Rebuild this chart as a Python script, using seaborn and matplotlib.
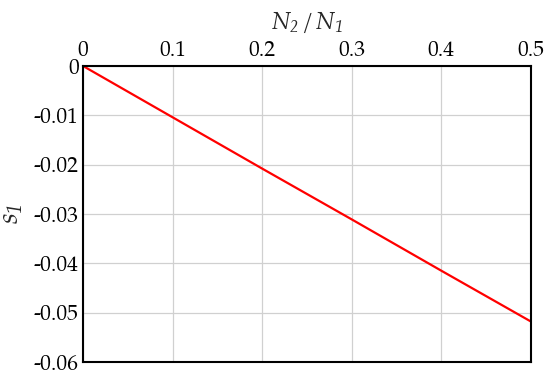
import matplotlib
matplotlib.use("Agg")
import matplotlib.pyplot as plt
import seaborn as sns
import pandas as pd

# ratio N2/N1 and the resulting s1
ratio = [0.0, 0.1, 0.2, 0.3, 0.4, 0.5]
s1 = [0.0, -0.0104, -0.0208, -0.0311, -0.0415, -0.0518]
xticks = [0, 0.1, 0.2, 0.3, 0.4, 0.5]
yticks = [0, -0.01, -0.02, -0.03, -0.04, -0.05, -0.06]

df = pd.DataFrame({"ratio": ratio, "s1": s1})

sns.set_style("whitegrid")
plt.rcParams["font.family"] = ["TeX Gyre Pagella", "DejaVu Serif"]
plt.rcParams["mathtext.fontset"] = "custom"
plt.rcParams["mathtext.rm"] = "TeX Gyre Pagella:italic"
plt.rcParams["mathtext.it"] = "TeX Gyre Pagella:italic"

fig = plt.figure(figsize=(5.5, 3.75), dpi=100)
ax = fig.add_axes([0.151, 0.035, 0.814, 0.789])

sns.lineplot(data=df, x="ratio", y="s1", color="red", linewidth=1.6, ax=ax)

ax.set_xlim(0, 0.5)
ax.set_ylim(-0.06, 0)
ax.set_xticks(xticks)
ax.set_xticklabels(["0", "0.1", "0.2", "0.3", "0.4", "0.5"])
ax.set_yticks(yticks)
ax.set_yticklabels(["0", "-0.01", "-0.02", "-0.03", "-0.04", "-0.05", "-0.06"])
ax.xaxis.tick_top()
ax.xaxis.set_label_position("top")
ax.tick_params(axis="both", length=0, pad=3, labelsize=15.5, colors="black")
ax.grid(True, color="#d0d0d0", linewidth=0.9)

ax.set_xlabel(r"$N_2\,/\,N_1$", fontsize=17, labelpad=8)
ax.set_ylabel(r"$s_1$", fontsize=20, labelpad=5)

for sp in ax.spines.values():
    sp.set_visible(True)
    sp.set_color("black")
    sp.set_linewidth(1.5)

fig.savefig("out.png", dpi=100)
